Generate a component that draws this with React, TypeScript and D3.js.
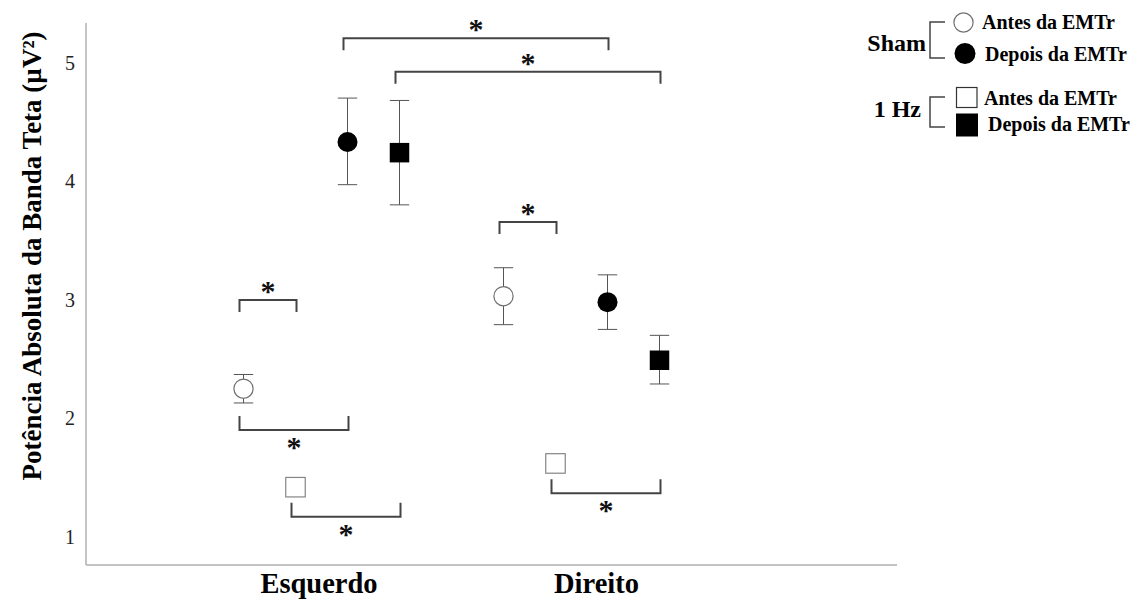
import React from "react";
import * as d3 from "d3";

// categories (hemisphere) and the four groups plotted inside each
const categories = ["Esquerdo", "Direito"];
const series = ["Sham antes", "1 Hz antes", "Sham depois", "1 Hz depois"];

// mean and error bar limits, one row per category, one column per series
const means = [
  [2.25, 1.42, 4.33, 4.24],
  [3.03, 1.62, 2.98, 2.49],
];
const lows = [
  [2.13, 1.37, 3.97, 3.8],
  [2.79, 1.57, 2.75, 2.29],
];
const highs = [
  [2.37, 1.47, 4.7, 4.68],
  [3.27, 1.67, 3.21, 2.7],
];

const yTicks = [1, 2, 3, 4, 5];

// significance brackets: [category, series] -> [category, series], line value, opening side
const brackets = [
  { from: [0, 2], to: [1, 2], value: 5.205, dir: "down" },
  { from: [0, 3], to: [1, 3], value: 4.923, dir: "down" },
  { from: [0, 0], to: [0, 1], value: 2.998, dir: "down" },
  { from: [0, 0], to: [0, 2], value: 1.902, dir: "up" },
  { from: [0, 1], to: [0, 3], value: 1.171, dir: "up" },
  { from: [1, 0], to: [1, 1], value: 3.656, dir: "down" },
  { from: [1, 1], to: [1, 3], value: 1.368, dir: "up" },
];

const FONT = "'Liberation Serif', 'Times New Roman', serif";

function Marker({ kind, cx, cy }: { kind: number; cx: number; cy: number }) {
  // 0 open circle, 1 open square, 2 filled circle, 3 filled square
  if (kind === 0)
    return <circle cx={cx} cy={cy} r={9.6} fill="#fff" stroke="#707070" strokeWidth={1.2} />;
  if (kind === 2) return <circle cx={cx} cy={cy} r={10} fill="#000" />;
  const s = 19.5;
  if (kind === 1)
    return (
      <rect x={cx - s / 2} y={cy - s / 2} width={s} height={s} fill="#fff" stroke="#858585" strokeWidth={1.2} />
    );
  return <rect x={cx - s / 2} y={cy - s / 2} width={s} height={s} fill="#000" />;
}

export default function App() {
  const width = 1141;
  const height = 601;

  const y = d3.scaleLinear().domain([0.764, 5.333]).range([565, 23]);
  const xCat = d3.scalePoint<string>().domain(categories).range([321.5, 581.5]);
  const xSer = d3.scalePoint<string>().domain(series).range([-78, 78]);
  const px = (c: number, s: number) => (xCat(categories[c]) as number) + (xSer(series[s]) as number);

  const [y0, y1] = y.domain();
  const axisLeft = 86;
  const axisRight = 897;
  const cap = 9.7;

  return (
    <svg
      width={width}
      height={height}
      style={{ position: "absolute", left: 0, top: 0, background: "#fff" }}
      fontFamily={FONT}
    >
      {/* axes */}
      <line x1={axisLeft} x2={axisLeft} y1={y(y1)} y2={y(y0)} stroke="#b0b0b0" strokeWidth={1.5} />
      <line x1={axisLeft} x2={axisRight} y1={y(y0)} y2={y(y0)} stroke="#b0b0b0" strokeWidth={1.5} />

      {yTicks.map((t) => (
        <text key={t} x={75} y={y(t)} dy="0.35em" textAnchor="end" fontSize={20} fill="#222">
          {t}
        </text>
      ))}

      <text
        transform={`translate(41, 256) rotate(-90)`}
        textAnchor="middle"
        fontSize={27}
        fontWeight="bold"
        fill="#000"
      >
        Potência Absoluta da Banda Teta (µV²)
      </text>

      {categories.map((c, i) => (
        <text
          key={c}
          x={(xCat(c) as number) + (i === 0 ? -2.5 : 15)}
          y={593}
          textAnchor="middle"
          fontSize={28.5}
          fontWeight="bold"
          fill="#000"
        >
          {c}
        </text>
      ))}

      {/* error bars */}
      {categories.map((c, ci) =>
        series.map((s, si) => {
          const cx = px(ci, si);
          return (
            <g key={`${c}-${s}-e`} stroke="#555" strokeWidth={1}>
              <line x1={cx} x2={cx} y1={y(highs[ci][si])} y2={y(lows[ci][si])} />
              <line x1={cx - cap} x2={cx + cap} y1={y(highs[ci][si])} y2={y(highs[ci][si])} />
              <line x1={cx - cap} x2={cx + cap} y1={y(lows[ci][si])} y2={y(lows[ci][si])} />
            </g>
          );
        })
      )}

      {/* markers */}
      {categories.map((c, ci) =>
        series.map((s, si) => (
          <Marker key={`${c}-${s}-m`} kind={si === 0 ? 0 : si === 1 ? 1 : si === 2 ? 2 : 3} cx={px(ci, si)} cy={y(means[ci][si])} />
        ))
      )}

      {/* significance brackets */}
      {brackets.map((b, i) => {
        const xa = px(b.from[0], b.from[1]) - 4;
        const xb = px(b.to[0], b.to[1]) + 1;
        const ly = y(b.value);
        const tick = b.dir === "down" ? 12 : -14;
        const starY = b.dir === "down" ? ly - 12 : ly + 14;
        return (
          <g key={i}>
            <path
              d={`M${xa},${ly + tick}V${ly}H${xb}V${ly + tick}`}
              fill="none"
              stroke="#444"
              strokeWidth={2}
            />
            <text x={(xa + xb) / 2} y={starY + 13} textAnchor="middle" fontSize={30} fontWeight="bold" fill="#111">
              *
            </text>
          </g>
        );
      })}

      {/* legend */}
      <g fontWeight="bold" fill="#000">
        <text x={926} y={51} textAnchor="end" fontSize={24}>
          Sham
        </text>
        <path d="M945,22H930V58H945" fill="none" stroke="#444" strokeWidth={1.5} />
        <Marker kind={0} cx={963.5} cy={22.5} />
        <text x={982} y={29} fontSize={20}>
          Antes da EMTr
        </text>
        <circle cx={965} cy={53.5} r={10.5} fill="#000" />
        <text x={985} y={61} fontSize={20}>
          Depois da EMTr
        </text>

        <text x={921} y={116.5} textAnchor="end" fontSize={24}>
          1 Hz
        </text>
        <path d="M945,97H930V127H945" fill="none" stroke="#444" strokeWidth={1.5} />
        <rect x={956.5} y={87.5} width={20.5} height={20} fill="#fff" stroke="#333" strokeWidth={1.2} />
        <text x={984} y={105} fontSize={20}>
          Antes da EMTr
        </text>
        <rect x={956} y={113.5} width={22} height={23} fill="#000" />
        <text x={988} y={131} fontSize={20}>
          Depois da EMTr
        </text>
      </g>
    </svg>
  );
}
